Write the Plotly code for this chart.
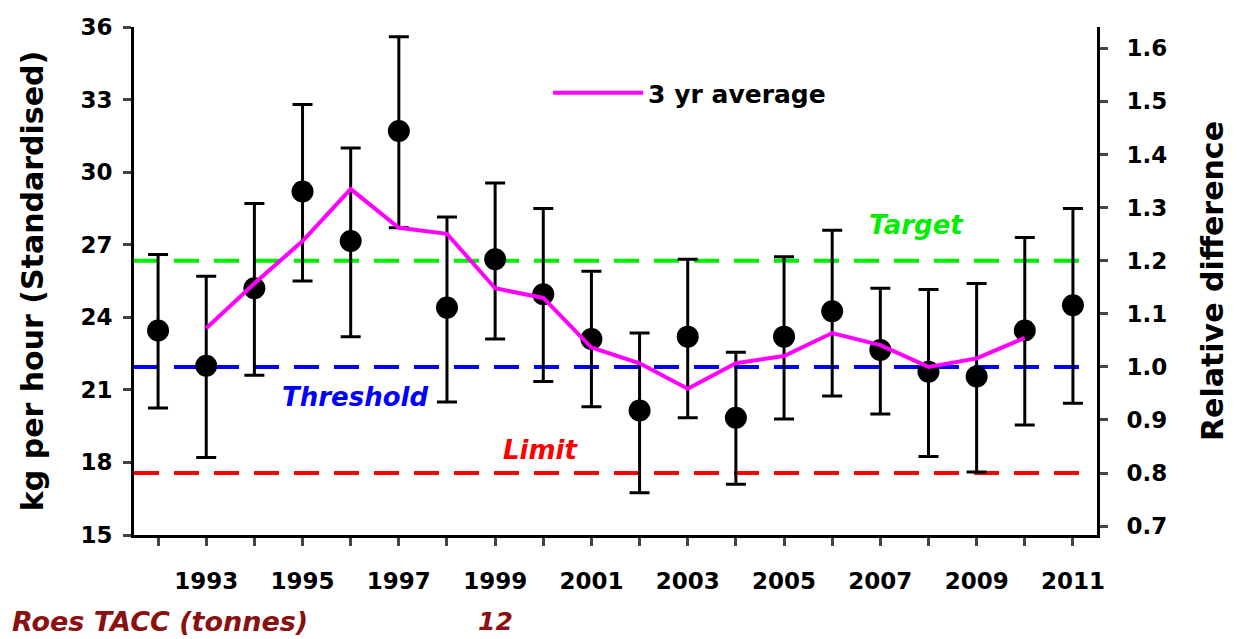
import plotly.graph_objects as go

# survey index (kg per hour, standardised) with error bar limits
years = list(range(1992, 2012))
cpue = [23.45, 22.0, 25.2, 29.2, 27.15, 31.7, 24.4, 26.4, 24.95, 23.1,
        20.15, 23.2, 19.85, 23.2, 24.25, 22.65, 21.75, 21.55, 23.45, 24.5]
upper = [26.6, 25.7, 28.7, 32.8, 31.0, 35.6, 28.15, 29.55, 28.5, 25.9,
         23.35, 26.4, 22.55, 26.5, 27.6, 25.2, 25.15, 25.4, 27.3, 28.5]
lower = [20.25, 18.2, 21.6, 25.5, 23.2, 27.7, 20.5, 23.1, 21.35, 20.3,
         16.75, 19.85, 17.1, 19.8, 20.75, 20.0, 18.25, 17.6, 19.55, 20.45]

# 3 year running average
avg_years = list(range(1993, 2011))
avg = [23.55, 25.4, 27.15, 29.3, 27.7, 27.45, 25.2, 24.8, 22.75, 22.1,
       21.05, 22.1, 22.4, 23.35, 22.85, 21.95, 22.3, 23.15]

# reference points (relative to threshold)
THRESHOLD_KG = 21.95
ref_names = ['Target', 'Threshold', 'Limit']
ref_values = [1.2, 1.0, 0.8]
ref_colors = ['#00ee00', '#0000ff', '#ff0000']

tick_years = [str(y) if y % 2 == 1 else '' for y in years]
tacc_label = 'Roes TACC (tonnes)'
tacc_year = 1999
tacc_value = '12'

FONT = 'DejaVu Sans'


def main():
    fig = go.Figure()

    err_plus = [u - c for u, c in zip(upper, cpue)]
    err_minus = [c - l for c, l in zip(cpue, lower)]
    fig.add_trace(go.Scatter(x=years, y=cpue, mode='markers',
                             marker=dict(color='black', size=22),
                             error_y=dict(type='data', array=err_plus,
                                          arrayminus=err_minus,
                                          color='black', thickness=3,
                                          width=10),
                             showlegend=False))
    fig.add_trace(go.Scatter(x=avg_years, y=avg, mode='lines',
                             name='3 yr average',
                             line=dict(color='#ff00ff', width=4)))
    # keeps the relative axis alive
    fig.add_trace(go.Scatter(x=[], y=[], yaxis='y2', showlegend=False))

    rng2 = [15/THRESHOLD_KG, 36/THRESHOLD_KG]

    for name, val, col in zip(ref_names, ref_values, ref_colors):
        fig.add_shape(type='line', xref='paper', yref='y2',
                      x0=0, x1=0.982, y0=val, y1=val, layer='below',
                      line=dict(color=col, width=4, dash='25px,15px'))

    # reference labels
    lab_x = [2007.75, 1996.1, 1999.95]
    lab_y = [27.8, 20.7, 18.5]
    for name, col, lx, ly in zip(ref_names, ref_colors, lab_x, lab_y):
        fig.add_annotation(x=lx, y=ly, text='<i><b>%s</b></i>' % name,
                           showarrow=False,
                           font=dict(family=FONT, size=26, color=col))

    fig.add_annotation(xref='paper', yref='paper', x=-0.129, y=-0.171,
                       xanchor='left', yanchor='middle', showarrow=False,
                       text='<i><b>%s</b></i>' % tacc_label,
                       font=dict(family=FONT, size=27, color='#8b1010'))
    fig.add_annotation(x=tacc_year, yref='paper', y=-0.171,
                       yanchor='middle', showarrow=False,
                       text='<i><b>%s</b></i>' % tacc_value,
                       font=dict(family=FONT, size=25, color='#8b1010'))

    axfont = dict(family=FONT, size=23, color='black', weight='bold')
    titlefont = dict(family=FONT, size=30, color='black', weight='bold')
    fig.update_layout(
        width=1229, height=631,
        margin=dict(l=126, r=140, t=19, b=104),
        plot_bgcolor='white', paper_bgcolor='white',
        xaxis=dict(range=[1991.5, 2011.5], tickvals=years,
                   ticktext=tick_years, ticks='outside', ticklen=8,
                   tickwidth=3, showline=True, linewidth=3,
                   linecolor='black', showgrid=False, zeroline=False,
                   tickfont=axfont, ticklabelstandoff=15,
                   automargin=False),
        yaxis=dict(range=[15, 36], dtick=3, ticks='outside', ticklen=8,
                   tickwidth=3, showline=True, linewidth=3,
                   linecolor='black', showgrid=False, zeroline=False,
                   tickfont=axfont, ticklabelstandoff=6, automargin='left',
                   title=dict(text='kg per hour (Standardised)',
                              font=titlefont, standoff=28)),
        yaxis2=dict(range=rng2, dtick=0.1, tick0=0.7, tickformat='.1f',
                    overlaying='y', side='right', ticks='outside',
                    ticklen=8, tickwidth=3, showline=True, linewidth=3,
                    linecolor='black', showgrid=False, zeroline=False,
                    tickfont=axfont, ticklabelstandoff=14,
                    automargin='right',
                    title=dict(text='Relative difference', font=titlefont,
                               standoff=36)),
        legend=dict(x=0.43, y=0.87, xanchor='left', yanchor='middle',
                    itemwidth=90, bgcolor='rgba(0,0,0,0)',
                    font=dict(family=FONT, size=25, color='black',
                              weight='bold')),
    )

    fig.write_html('out.html')


if __name__ == '__main__':
    main()
